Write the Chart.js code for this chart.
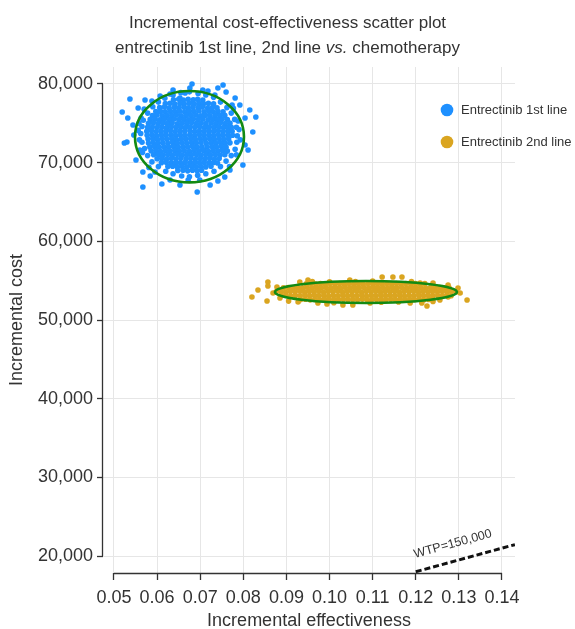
<!DOCTYPE html>
<html>
<head>
<meta charset="utf-8">
<script src="https://cdn.jsdelivr.net/npm/chart.js@4.4.1/dist/chart.umd.min.js"></script>
<style>
  html, body { margin: 0; padding: 0; background: #fff; }
  canvas { display: block; }
</style>
</head>
<body>
<canvas id="icer" width="575" height="629"></canvas>
<script>
// Chart text
const titleLine1 = 'Incremental cost-effectiveness scatter plot';
const titleLine2 = ['entrectinib 1st line, 2nd line ', 'vs.', ' chemotherapy']; // middle part is italic
const xTitle = 'Incremental effectiveness';
const yTitle = 'Incremental cost';
const seriesNames = ['Entrectinib 1st line', 'Entrectinib 2nd line'];
const wtpLabel = 'WTP=150,000';

// Axis ranges and ticks
const xRange = [0.04745, 0.14302];
const yRange = [17840, 82160];
const xTicks = [0.05, 0.06, 0.07, 0.08, 0.09, 0.10, 0.11, 0.12, 0.13, 0.14];
const yTicks = [20000, 30000, 40000, 50000, 60000, 70000, 80000];

// Entrectinib 1st line simulations [effectiveness, cost]
const firstLinePoints = [
  [0.0638,78000],[0.0650,78060],[0.0661,77950],[0.0672,78040],[0.0684,77980],[0.0694,78050],[0.0706,77960],
  [0.0619,77500],[0.0630,77550],[0.0641,77460],[0.0653,77520],[0.0663,77480],[0.0675,77560],[0.0686,77450],[0.0697,77530],[0.0708,77490],[0.0719,77540],[0.0731,77470],
  [0.0606,77000],[0.0617,77060],[0.0628,76950],[0.0640,77040],[0.0650,76980],[0.0662,77050],[0.0672,76960],[0.0683,77030],[0.0695,76990],[0.0705,77060],[0.0717,76950],[0.0728,77020],[0.0739,76980],
  [0.0597,76500],[0.0608,76540],[0.0619,76460],[0.0631,76530],[0.0642,76480],[0.0652,76550],[0.0664,76470],[0.0675,76520],[0.0686,76490],[0.0697,76560],[0.0709,76450],[0.0720,76530],[0.0730,76480],[0.0741,76540],[0.0753,76470],
  [0.0589,76000],[0.0600,76050],[0.0612,75960],[0.0623,76030],[0.0634,75980],[0.0645,76060],[0.0656,75950],[0.0668,76020],[0.0679,75990],[0.0690,76050],[0.0701,75970],[0.0712,76030],[0.0723,75960],[0.0735,76040],[0.0746,75980],[0.0757,76020],
  [0.0584,75500],[0.0595,75540],[0.0606,75460],[0.0617,75530],[0.0629,75470],[0.0640,75550],[0.0651,75480],[0.0662,75520],[0.0673,75460],[0.0684,75540],[0.0695,75490],[0.0706,75560],[0.0718,75450],[0.0729,75530],[0.0740,75480],[0.0751,75540],[0.0763,75470],
  [0.0580,75000],[0.0591,75060],[0.0602,74960],[0.0613,75030],[0.0624,74980],[0.0635,75050],[0.0647,74950],[0.0658,75020],[0.0669,74990],[0.0680,75060],[0.0691,74970],[0.0702,75030],[0.0713,74960],[0.0725,75040],[0.0736,74980],[0.0747,75050],[0.0758,74960],[0.0769,75020],
  [0.0578,74500],[0.0589,74540],[0.0600,74470],[0.0611,74530],[0.0622,74460],[0.0633,74550],[0.0644,74480],[0.0655,74520],[0.0666,74470],[0.0677,74540],[0.0688,74490],[0.0699,74560],[0.0710,74450],[0.0721,74530],[0.0732,74480],[0.0743,74540],[0.0754,74470],[0.0765,74520],[0.0772,74480],
  [0.0576,74000],[0.0587,74050],[0.0598,73960],[0.0609,74030],[0.0620,73980],[0.0631,74060],[0.0642,73950],[0.0653,74020],[0.0664,73990],[0.0676,74050],[0.0687,73970],[0.0698,74030],[0.0709,73960],[0.0720,74040],[0.0731,73980],[0.0742,74050],[0.0753,73960],[0.0764,74020],[0.0774,73990],
  [0.0577,73500],[0.0588,73540],[0.0599,73460],[0.0610,73530],[0.0621,73470],[0.0632,73550],[0.0643,73480],[0.0654,73520],[0.0665,73460],[0.0676,73540],[0.0687,73490],[0.0698,73560],[0.0709,73450],[0.0720,73530],[0.0731,73480],[0.0742,73540],[0.0753,73470],[0.0764,73520],[0.0775,73480],
  [0.0579,73000],[0.0590,73050],[0.0601,72960],[0.0612,73030],[0.0623,72980],[0.0634,73060],[0.0645,72950],[0.0656,73020],[0.0667,72990],[0.0678,73050],[0.0689,72970],[0.0700,73030],[0.0711,72960],[0.0722,73040],[0.0733,72980],[0.0744,73050],[0.0755,72960],[0.0766,73020],
  [0.0580,72500],[0.0591,72540],[0.0602,72460],[0.0613,72530],[0.0625,72470],[0.0636,72550],[0.0647,72480],[0.0658,72520],[0.0669,72460],[0.0680,72540],[0.0691,72490],[0.0702,72560],[0.0714,72450],[0.0725,72530],[0.0736,72480],[0.0747,72540],[0.0758,72470],[0.0769,72520],
  [0.0583,72000],[0.0594,72050],[0.0605,71960],[0.0616,72030],[0.0627,71980],[0.0638,72060],[0.0649,71950],[0.0660,72020],[0.0671,71990],[0.0682,72050],[0.0693,71970],[0.0704,72030],[0.0716,71960],[0.0727,72040],[0.0738,71980],[0.0749,72050],[0.0760,71970],
  [0.0586,71500],[0.0597,71540],[0.0608,71460],[0.0619,71530],[0.0630,71470],[0.0641,71550],[0.0652,71480],[0.0663,71520],[0.0675,71460],[0.0686,71540],[0.0697,71490],[0.0708,71560],[0.0719,71450],[0.0730,71530],[0.0741,71480],[0.0752,71540],[0.0763,71470],
  [0.0592,71000],[0.0603,71050],[0.0614,70960],[0.0625,71030],[0.0636,70980],[0.0647,71060],[0.0658,70950],[0.0669,71020],[0.0680,70990],[0.0691,71050],[0.0702,70970],[0.0713,71030],[0.0724,70960],[0.0735,71040],[0.0746,70980],[0.0757,71020],
  [0.0600,70500],[0.0611,70540],[0.0622,70460],[0.0633,70530],[0.0644,70470],[0.0655,70550],[0.0667,70480],[0.0678,70520],[0.0689,70460],[0.0700,70540],[0.0711,70490],[0.0722,70560],[0.0733,70450],[0.0744,70530],
  [0.0610,70000],[0.0621,70050],[0.0632,69960],[0.0643,70030],[0.0654,69980],[0.0665,70060],[0.0676,69950],[0.0687,70020],[0.0698,69990],[0.0709,70050],[0.0720,69970],[0.0731,70030],[0.0740,69960],
  [0.0625,69500],[0.0636,69540],[0.0647,69460],[0.0658,69530],[0.0669,69470],[0.0680,69550],[0.0691,69480],[0.0702,69520],[0.0713,69460],[0.0725,69540],
  [0.0648,69000],[0.0660,69050],[0.0671,68960],[0.0682,69030],[0.0693,68980],[0.0703,69040],
  // around the edge of the cloud
  [0.0786,73400],[0.0780,75500],[0.0762,77000],[0.0731,78300],[0.0695,78800],[0.0655,78900],[0.0618,78200],[0.0590,77100],
  [0.0568,75400],[0.0562,73700],[0.0571,71800],[0.0588,70100],[0.0620,68900],[0.0657,68300],[0.0694,68400],[0.0732,68900],
  [0.0760,70200],[0.0781,71700],[0.0784,74500],[0.0772,76300],[0.0747,77700],[0.0713,78600],[0.0675,79000],[0.0637,78600],
  [0.0603,77700],[0.0578,76300],[0.0565,74600],[0.0565,72600],[0.0578,70900],[0.0603,69500],[0.0637,68600],[0.0675,68200],
  [0.0713,68600],[0.0747,69500],[0.0772,70900],[0.0785,72600],
  [0.0556,74100],[0.0559,72900],[0.0558,75000],[0.0566,71300],[0.0790,74200],[0.0793,72900],[0.0788,75300],[0.0784,71000],
  [0.0570,76800],[0.0777,76900],[0.0581,69400],[0.0768,69500],
  // scattered outliers
  [0.0537,78090],[0.0519,76440],[0.0572,77970],[0.0588,77840],[0.0607,78470],[0.0637,79240],[0.0653,78220],[0.0676,79490],
  [0.0681,80000],[0.0706,79240],[0.0718,79110],[0.0741,79490],[0.0753,79870],[0.0781,78220],[0.0792,77330],[0.0829,75810],
  [0.0822,73900],[0.0804,72250],[0.0799,69700],[0.0757,68180],[0.0741,67670],[0.0723,67160],[0.0693,66270],[0.0653,67160],
  [0.0611,67290],[0.0567,66910],[0.0567,68820],[0.0551,70340],[0.0530,72630],[0.0524,72500],[0.0544,74790],[0.0532,75680],
  [0.0556,76950],[0.0584,68310],[0.0630,67800],[0.0699,67800],[0.0769,69070],[0.0811,71610],[0.0815,76700],[0.0804,75680],
  [0.0560,71610],[0.0546,73520],[0.0734,78600],[0.0630,78730],[0.0760,78980],[0.0665,78860],[0.0595,68820],[0.0672,67800],
  [0.0774,77330],[0.0563,75680]
];

// Entrectinib 2nd line simulations [effectiveness, cost]
const secondLinePoints = [
  [0.0946,54600],[0.0957,54640],[0.0968,54560],[0.0979,54620],[0.0990,54580],[0.1001,54650],[0.1012,54570],[0.1023,54630],[0.1034,54590],
  [0.1045,54640],[0.1056,54560],[0.1067,54620],[0.1078,54580],[0.1089,54650],[0.1100,54570],[0.1111,54620],[0.1122,54590],[0.1133,54640],
  [0.1144,54560],[0.1155,54630],[0.1166,54580],[0.1177,54640],[0.1188,54570],[0.1199,54620],[0.1210,54590],[0.1221,54630],
  [0.0893,54100],[0.0904,54140],[0.0915,54060],[0.0926,54120],[0.0937,54080],[0.0948,54150],[0.0959,54070],[0.0970,54130],[0.0981,54090],
  [0.0992,54140],[0.1003,54060],[0.1014,54120],[0.1025,54080],[0.1036,54150],[0.1047,54070],[0.1058,54120],[0.1069,54090],[0.1080,54140],
  [0.1091,54060],[0.1102,54130],[0.1113,54080],[0.1124,54140],[0.1135,54070],[0.1146,54120],[0.1157,54090],[0.1168,54130],[0.1179,54060],
  [0.1190,54120],[0.1201,54080],[0.1212,54140],[0.1223,54070],[0.1234,54130],[0.1245,54090],[0.1256,54120],[0.1267,54080],[0.1277,54110],
  [0.0876,53600],[0.0887,53640],[0.0898,53560],[0.0909,53620],[0.0920,53580],[0.0931,53650],[0.0942,53570],[0.0953,53630],[0.0964,53590],
  [0.0975,53640],[0.0986,53560],[0.0997,53620],[0.1008,53580],[0.1019,53650],[0.1030,53570],[0.1041,53620],[0.1052,53590],[0.1063,53640],
  [0.1074,53560],[0.1085,53630],[0.1096,53580],[0.1107,53640],[0.1118,53570],[0.1129,53620],[0.1140,53590],[0.1151,53630],[0.1162,53560],
  [0.1173,53620],[0.1184,53580],[0.1195,53640],[0.1206,53570],[0.1217,53630],[0.1228,53590],[0.1239,53620],[0.1250,53580],[0.1261,53640],
  [0.1272,53570],[0.1283,53620],[0.1294,53590],
  [0.0888,53100],[0.0899,53140],[0.0910,53060],[0.0921,53120],[0.0932,53080],[0.0943,53150],[0.0954,53070],[0.0965,53130],[0.0976,53090],
  [0.0987,53140],[0.0998,53060],[0.1009,53120],[0.1020,53080],[0.1031,53150],[0.1042,53070],[0.1053,53120],[0.1064,53090],[0.1075,53140],
  [0.1086,53060],[0.1097,53130],[0.1108,53080],[0.1119,53140],[0.1130,53070],[0.1141,53120],[0.1152,53090],[0.1163,53130],[0.1174,53060],
  [0.1185,53120],[0.1196,53080],[0.1207,53140],[0.1218,53070],[0.1229,53130],[0.1240,53090],[0.1251,53120],[0.1262,53080],[0.1273,53140],
  [0.1282,53090],
  [0.0933,52600],[0.0944,52640],[0.0955,52560],[0.0966,52620],[0.0977,52580],[0.0988,52650],[0.0999,52570],[0.1010,52630],[0.1021,52590],
  [0.1032,52640],[0.1043,52560],[0.1054,52620],[0.1065,52580],[0.1076,52650],[0.1087,52570],[0.1098,52620],[0.1109,52590],[0.1120,52640],
  [0.1131,52560],[0.1142,52630],[0.1153,52580],[0.1164,52640],[0.1175,52570],[0.1186,52620],[0.1197,52590],[0.1208,52630],[0.1219,52560],
  [0.1230,52620],[0.1238,52590],
  // scattered outliers
  [0.0820,52930],[0.0834,53820],[0.0857,54830],[0.0857,54330],[0.0855,52420],[0.0869,53440],[0.0885,52800],[0.0878,54200],
  [0.0931,54830],[0.0950,55090],[0.1047,55090],[0.1122,55470],[0.1147,55470],[0.1168,55470],[0.1210,54710],[0.1240,54710],
  [0.1275,54450],[0.1298,54070],[0.1303,53440],[0.1319,52550],[0.0927,52290],[0.0973,52170],[0.0994,52040],[0.1031,51910],
  [0.1054,51910],[0.1094,52170],[0.1187,52170],[0.1214,52170],[0.1226,51780],[0.1256,52550],[0.1275,52930],
  [0.0960,54900],[0.1000,54850],[0.1060,54900],[0.1100,54950],[0.1190,54900],[0.0905,52400],[0.1010,52200],[0.1120,52250],
  [0.1160,52300],[0.1240,52350]
];

// 95% confidence ellipses, one per series
const ellipseCenterX = [0.06751, 0.10845];
const ellipseCenterY = [73300, 53560];
const ellipseHalfX = [0.01264, 0.02111];
const ellipseHalfY = [5809, 1398];

// willingness-to-pay threshold line (cost = 150,000 x effectiveness)
const wtpEffect = [0.12, 0.143];
const wtpCost = [18000, 21450];

const FONT = "'Liberation Sans', Arial, Helvetica, sans-serif";
const INK = '#333';
const BLUE = '#1E90FF';
const GOLD = '#DAA520';
const seriesColors = [BLUE, GOLD];

// title with an italic "vs."
const titlePlugin = {
  id: 'titleLines',
  afterDraw(chart) {
    const ctx = chart.ctx;
    const cx = chart.width / 2;
    ctx.save();
    ctx.fillStyle = INK;
    ctx.textBaseline = 'alphabetic';
    ctx.textAlign = 'center';
    ctx.font = '17px ' + FONT;
    ctx.fillText(titleLine1, cx, 28);

    const fonts = ['17px ' + FONT, 'italic 17px ' + FONT, '17px ' + FONT];
    let total = 0;
    const widths = titleLine2.map((t, i) => {
      ctx.font = fonts[i];
      const w = ctx.measureText(t).width;
      total += w;
      return w;
    });
    ctx.textAlign = 'left';
    let x = cx - total / 2;
    titleLine2.forEach((t, i) => {
      ctx.font = fonts[i];
      ctx.fillText(t, x, 53);
      x += widths[i];
    });
    ctx.restore();
  }
};

// axis lines that only span first..last tick, like the original
const axisLines = {
  id: 'axisLines',
  afterDraw(chart) {
    const { ctx, scales: { x, y } } = chart;
    ctx.save();
    ctx.strokeStyle = INK;
    ctx.lineWidth = 1.3;
    ctx.beginPath();
    const yx = Math.round(y.right) - 0.5;
    ctx.moveTo(yx, y.getPixelForValue(yTicks[yTicks.length - 1]));
    ctx.lineTo(yx, y.getPixelForValue(yTicks[0]));
    const xy = Math.round(x.top) + 0.5;
    ctx.moveTo(x.getPixelForValue(xTicks[0]), xy);
    ctx.lineTo(x.getPixelForValue(xTicks[xTicks.length - 1]), xy);
    ctx.stroke();
    ctx.restore();
  }
};

// ellipses + WTP label
const overlays = {
  id: 'overlays',
  afterDatasetsDraw(chart) {
    const { ctx, scales: { x, y } } = chart;
    ctx.save();
    ctx.strokeStyle = '#138a13';
    ctx.lineWidth = 2.6;
    ellipseCenterX.forEach((cxv, i) => {
      const cx = x.getPixelForValue(cxv);
      const cy = y.getPixelForValue(ellipseCenterY[i]);
      const rx = Math.abs(x.getPixelForValue(cxv + ellipseHalfX[i]) - cx);
      const ry = Math.abs(y.getPixelForValue(ellipseCenterY[i] + ellipseHalfY[i]) - cy);
      ctx.beginPath();
      ctx.ellipse(cx, cy, rx, ry, 0, 0, Math.PI * 2);
      ctx.stroke();
    });

    const x1 = x.getPixelForValue(wtpEffect[0]), y1 = y.getPixelForValue(wtpCost[0]);
    const x2 = x.getPixelForValue(wtpEffect[1]), y2 = y.getPixelForValue(wtpCost[1]);
    const ang = Math.atan2(y2 - y1, x2 - x1);
    ctx.translate(x1, y1);
    ctx.rotate(ang);
    ctx.fillStyle = INK;
    ctx.font = '12.5px ' + FONT;
    ctx.textAlign = 'left';
    ctx.textBaseline = 'alphabetic';
    ctx.fillText(wtpLabel, 3, -13.5);
    ctx.restore();
  }
};

// legend at the upper right
const legendPlugin = {
  id: 'sideLegend',
  afterDraw(chart) {
    const ctx = chart.ctx;
    ctx.save();
    ctx.font = '13px ' + FONT;
    ctx.textBaseline = 'middle';
    ctx.textAlign = 'left';
    seriesNames.forEach((name, i) => {
      const ly = 110 + i * 32;
      ctx.fillStyle = seriesColors[i];
      ctx.beginPath();
      ctx.arc(447, ly, 6.3, 0, Math.PI * 2);
      ctx.fill();
      ctx.fillStyle = INK;
      ctx.fillText(name, 461, ly);
    });
    ctx.restore();
  }
};

const toXY = pts => pts.map(([x, y]) => ({ x, y }));

new Chart(document.getElementById('icer'), {
  type: 'scatter',
  data: {
    datasets: [
      {
        label: seriesNames[0], data: toXY(firstLinePoints),
        backgroundColor: BLUE, pointRadius: 2.8, pointBorderWidth: 0, pointHoverRadius: 2.8
      },
      {
        label: seriesNames[1], data: toXY(secondLinePoints),
        backgroundColor: GOLD, pointRadius: 2.8, pointBorderWidth: 0, pointHoverRadius: 2.8
      },
      {
        label: wtpLabel, type: 'line', data: wtpEffect.map((v, i) => ({ x: v, y: wtpCost[i] })),
        borderColor: '#111', borderWidth: 3, borderDash: [6, 3], pointRadius: 0, fill: false
      }
    ]
  },
  options: {
    responsive: false,
    animation: false,
    devicePixelRatio: 1,
    layout: { padding: { top: 67, right: 60, left: 0, bottom: 0 } },
    plugins: { legend: { display: false }, tooltip: { enabled: false }, title: { display: false } },
    scales: {
      x: {
        type: 'linear', min: xRange[0], max: xRange[1],
        border: { display: false },
        grid: { color: '#e6e6e6', tickColor: INK, tickLength: 7, tickWidth: 1.3 },
        afterBuildTicks: s => { s.ticks = xTicks.map(v => ({ value: v })); },
        ticks: {
          autoSkip: false, maxRotation: 0,
          color: INK, font: { family: FONT, size: 18 }, padding: 7,
          callback: v => v.toFixed(2)
        },
        title: { display: true, text: xTitle, color: INK, font: { family: FONT, size: 18 }, padding: { top: 0, bottom: -3 } },
        afterFit: s => { s.height = 56; }
      },
      y: {
        type: 'linear', min: yRange[0], max: yRange[1],
        border: { display: false },
        grid: { color: '#e6e6e6', tickColor: INK, tickLength: 6, tickWidth: 1.3 },
        afterBuildTicks: s => { s.ticks = yTicks.map(v => ({ value: v })); },
        ticks: {
          autoSkip: false,
          color: INK, font: { family: FONT, size: 18 }, padding: 4,
          callback: v => v.toLocaleString('en-US')
        },
        title: { display: true, text: yTitle, color: INK, font: { family: FONT, size: 18 }, padding: { top: 6, bottom: 0 } },
        afterFit: s => { s.width = 103; }
      }
    }
  },
  plugins: [overlays, axisLines, titlePlugin, legendPlugin]
});
</script>
</body>
</html>
